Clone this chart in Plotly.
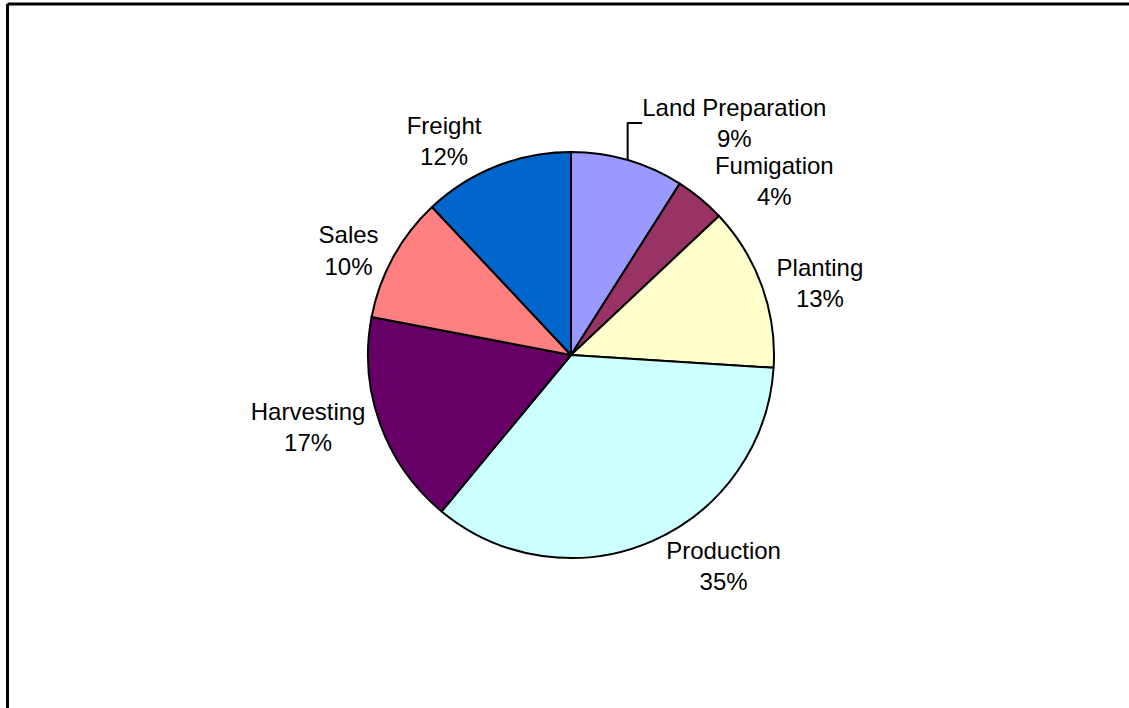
import plotly.graph_objects as go

W, H = 1129, 708

categories = ["Land Preparation", "Fumigation", "Planting", "Production",
              "Harvesting", "Sales", "Freight"]
values = [9, 4, 13, 35, 17, 10, 12]
colors = ["#9999FF", "#993366", "#FFFFCC", "#CCFFFF", "#660066", "#FF8080", "#0066CC"]

cx, cy, R = 571, 355, 203

fig = go.Figure(go.Pie(
    labels=categories,
    values=values,
    sort=False,
    direction="clockwise",
    rotation=0,
    marker=dict(colors=colors, line=dict(color="black", width=2)),
    texttemplate="%{label}<br>%{percent:.0%}",
    textposition="outside",
    textfont=dict(family="Liberation Sans, Arial, sans-serif", size=24, color="black"),
    showlegend=False,
    hoverinfo="label+percent",
    domain=dict(x=[(cx - R) / W, (cx + R) / W], y=[1 - (cy + R) / H, 1 - (cy - R) / H]),
))

fig.update_layout(
    width=W, height=H,
    margin=dict(l=0, r=0, t=0, b=0),
    paper_bgcolor="white",
    plot_bgcolor="white",
    shapes=[
        dict(type="line", xref="paper", yref="paper", x0=7.5 / W, x1=1.01, y0=1 - 4 / H, y1=1 - 4 / H,
             line=dict(color="black", width=3)),
        dict(type="line", xref="paper", yref="paper", x0=7.5 / W, x1=7.5 / W, y0=1 - 4 / H, y1=-0.01,
             line=dict(color="black", width=3)),
    ],
)

fig.write_html("out.html")
